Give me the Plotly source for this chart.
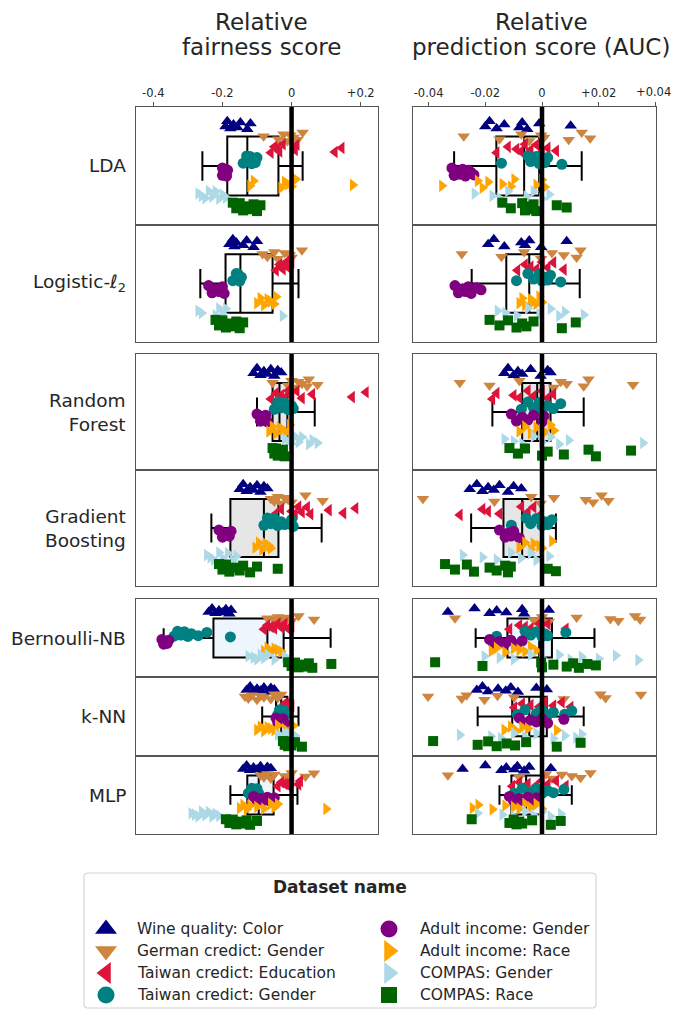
import plotly.graph_objects as go

# ---------------- data ----------------
DATASETS = ["Wine quality: Color", "German credict: Gender", "Taiwan credict: Education",
            "Taiwan credict: Gender", "Adult income: Gender", "Adult income: Race",
            "COMPAS: Gender", "COMPAS: Race"]
COLORS = ["#000080", "#cd853f", "#dc143c", "#008080", "#800080", "#ffa500", "#add8e6", "#006400"]
SYMBOLS = ["triangle-up", "triangle-down", "triangle-left", "circle", "circle",
           "triangle-right", "triangle-right", "square"]
CLASSIFIERS = ["LDA", "Logistic-ℓ<sub>2</sub>", "Random<br>Forest", "Gradient<br>Boosting",
               "Bernoulli-NB", "k-NN", "MLP"]
FAIR_TICKS = [-0.4, -0.2, 0, 0.2]
FAIR_TICKTEXT = ["-0.4", "-0.2", "0", "+0.2"]
AUC_TICKS = [-0.04, -0.02, 0, 0.02, 0.04]
AUC_TICKTEXT = ["-0.04", "-0.02", "0", "+0.02", "+0.04"]
TITLES = [["Relative", "fairness score"], ["Relative", "prediction score (AUC)"]]

# relative fairness score, one list per dataset (order of DATASETS)
FAIR_LDA = [
    [-0.191, -0.186, -0.177, -0.168, -0.157, -0.148, -0.128, -0.119],
    [-0.081, -0.038, -0.023, -0.012, -0.003, 0.006, 0.017, 0.032],
    [-0.06, -0.05, -0.042, -0.035, -0.025, 0.01, 0.015, 0.125, 0.145],
    [-0.14, -0.13, -0.125, -0.12, -0.115, -0.11, -0.105, -0.10],
    [-0.2, -0.2, -0.195, -0.19, -0.19, -0.188, -0.185],
    [-0.12, -0.11, -0.03, -0.02, -0.01, 0.0, 0.012, 0.177],
    [-0.27, -0.26, -0.25, -0.24, -0.23, -0.22, -0.21, -0.2, -0.19],
    [-0.17, -0.16, -0.15, -0.14, -0.13, -0.12, -0.11, -0.1, -0.09],
]
FAIR_LOG = [
    [-0.18, -0.17, -0.165, -0.16, -0.14, -0.13, -0.11, -0.1],
    [-0.084, -0.07, -0.05, -0.04, -0.02, -0.005, 0.0, 0.03],
    [-0.045, -0.035, -0.03, -0.025, -0.015, -0.01, 0.0],
    [-0.17, -0.16, -0.16, -0.155, -0.15, -0.145],
    [-0.24, -0.23, -0.22, -0.21, -0.2, -0.195],
    [-0.1, -0.09, -0.08, -0.07, -0.06, -0.05, -0.045],
    [-0.27, -0.26, -0.22, -0.21, -0.2, -0.19, -0.026],
    [-0.22, -0.21, -0.2, -0.19, -0.18, -0.17, -0.16, -0.15, -0.14],
]
FAIR_RF = [
    [-0.11, -0.1, -0.09, -0.08, -0.07, -0.06, -0.05, -0.04, -0.03],
    [-0.055, -0.01, 0.0, 0.01, 0.02, 0.03, 0.045, 0.05, 0.075],
    [-0.06, -0.045, -0.03, -0.02, -0.01, 0.0, 0.015, 0.03, 0.06, 0.175, 0.215],
    [-0.05, -0.04, -0.03, -0.02, -0.01, 0.0, 0.005],
    [-0.1, -0.09, -0.085, -0.08, -0.075, -0.07],
    [-0.065, -0.055, -0.045, -0.035, -0.025, -0.015, -0.005],
    [-0.02, -0.01, 0.0, 0.01, 0.02, 0.03, 0.05, 0.06, 0.075],
    [-0.055, -0.05, -0.045, -0.04, -0.035, -0.03, -0.025, -0.02],
]
FAIR_GB = [
    [-0.15, -0.14, -0.13, -0.12, -0.11, -0.1, -0.09, -0.08, -0.07],
    [-0.06, -0.05, -0.04, -0.03, -0.02, -0.01, 0.0, 0.04, 0.09],
    [-0.05, -0.03, 0.0, 0.01, 0.02, 0.03, 0.045, 0.055, 0.108, 0.15, 0.185],
    [-0.08, -0.07, -0.06, -0.05, -0.04, -0.03, -0.02, 0.0, 0.005],
    [-0.21, -0.2, -0.19, -0.18, -0.175],
    [-0.105, -0.095, -0.085, -0.075, -0.065, -0.06],
    [-0.245, -0.235, -0.225, -0.21, -0.2, -0.185, -0.17, -0.16],
    [-0.21, -0.2, -0.19, -0.18, -0.165, -0.15, -0.14, -0.12, -0.1, -0.04],
]
FAIR_NB = [
    [-0.24, -0.23, -0.22, -0.21, -0.2, -0.19, -0.18, -0.175],
    [-0.07, -0.05, -0.04, -0.03, -0.02, -0.01, 0.0, 0.02, 0.065],
    [-0.08, -0.07, -0.06, -0.05, -0.04, -0.03, -0.02, -0.01, 0.0],
    [-0.34, -0.33, -0.32, -0.31, -0.3, -0.29, -0.27, -0.245, -0.177],
    [-0.375, -0.37, -0.365, -0.36, -0.355],
    [-0.08, -0.07, -0.06, -0.05, -0.04, -0.03],
    [-0.125, -0.11, -0.1, -0.09, -0.08, -0.07, -0.05, -0.02, -0.01],
    [-0.01, 0.0, 0.01, 0.02, 0.03, 0.04, 0.05, 0.06, 0.115],
]
FAIR_KNN = [
    [-0.13, -0.12, -0.11, -0.1, -0.09, -0.08, -0.07, -0.06, -0.05],
    [-0.135, -0.125, -0.115, -0.1, -0.09, -0.08, -0.06, -0.05, -0.04, -0.03],
    [-0.025, -0.02, -0.015, -0.01, -0.005, 0.0],
    [-0.04, -0.035, -0.03, -0.025, -0.02, -0.015],
    [-0.045, -0.04, -0.035, -0.03, -0.025, -0.02],
    [-0.1, -0.09, -0.08, -0.07, -0.06, -0.05, -0.04, -0.02, 0.005],
    [-0.04, -0.03, -0.025, -0.02, -0.015, -0.01, 0.0, 0.01],
    [-0.025, -0.02, -0.015, -0.01, -0.005, 0.0, 0.01, 0.03],
]
FAIR_MLP = [
    [-0.14, -0.13, -0.12, -0.11, -0.1, -0.09, -0.08, -0.07, -0.06],
    [-0.09, -0.08, -0.07, -0.06, -0.05, -0.02, -0.01, 0.0, 0.04, 0.065],
    [-0.04, -0.03, -0.02, -0.01, 0.0, 0.02, 0.025],
    [-0.125, -0.115, -0.105, -0.1, -0.095],
    [-0.11, -0.1, -0.09, -0.08, -0.07, -0.06, -0.05],
    [-0.15, -0.14, -0.13, -0.12, -0.1, -0.08, -0.06, -0.05, -0.04, 0.1],
    [-0.29, -0.28, -0.27, -0.26, -0.25, -0.24, -0.23, -0.22, -0.21],
    [-0.19, -0.18, -0.17, -0.16, -0.15, -0.14, -0.13, -0.12, -0.1],
]

# relative prediction score (AUC)
AUC_LDA = [
    [-0.02, -0.0185, -0.016, -0.0133, -0.008, -0.007, -0.0052, -0.001, 0.0101],
    [-0.0276, -0.015, -0.0073, -0.0045, -0.0003, 0.0007, 0.0094, 0.014, 0.017],
    [-0.016, -0.012, -0.009, -0.0075, -0.006, -0.004, -0.002, 0.0, 0.002, 0.005],
    [-0.0143, -0.005, -0.004, -0.002, -0.001, 0.0, 0.001, 0.002, 0.007],
    [-0.0318, -0.031, -0.03, -0.029, -0.028, -0.027, -0.026, -0.025, -0.024],
    [-0.0353, -0.0227, -0.021, -0.019, -0.014, -0.011, -0.0098, -0.002, 0.0, 0.001],
    [-0.0238, -0.0175, -0.015, -0.012, -0.0055, -0.003, 0.0, 0.0025],
    [-0.014, -0.011, -0.007, -0.006, -0.005, -0.004, -0.003, -0.002, 0.0052, 0.0087],
]
AUC_LOG = [
    [-0.019, -0.017, -0.0133, -0.0073, -0.006, -0.0045, -0.0003, 0.0087],
    [-0.0283, -0.0143, -0.0063, -0.0003, 0.0035, 0.0077, 0.0122, 0.0136],
    [-0.0087, -0.006, -0.004, -0.002, 0.0, 0.002, 0.004, 0.0077],
    [-0.009, -0.005, -0.003, -0.001, 0.0, 0.001, 0.002, 0.003, 0.0066],
    [-0.0307, -0.0295, -0.028, -0.027, -0.026, -0.025, -0.023, -0.0215],
    [-0.008, -0.007, -0.006, -0.004, -0.003, -0.002, -0.001, 0.0],
    [-0.0157, -0.013, -0.009, -0.005, -0.001, 0.003, 0.006, 0.008, 0.0147],
    [-0.0185, -0.015, -0.012, -0.009, -0.007, -0.0055, -0.003, 0.007, 0.0119],
]
AUC_RF = [
    [-0.0133, -0.012, -0.01, -0.0085, -0.007, -0.004, -0.0005, 0.002, 0.003],
    [-0.029, -0.0185, -0.008, 0.0042, 0.0066, 0.0087, 0.0147, 0.0164, 0.0321],
    [-0.0175, -0.016, -0.01, -0.008, -0.005, -0.003, 0.0, 0.002, 0.004],
    [-0.0073, -0.005, -0.003, -0.001, 0.0, 0.002, 0.004, 0.0066],
    [-0.0108, -0.009, -0.007, -0.005, -0.003, 0.0, 0.0007],
    [-0.008, -0.006, -0.004, -0.002, 0.0, 0.001, 0.003, 0.0042],
    [-0.0133, -0.01, -0.007, -0.003, 0.0, 0.003, 0.006, 0.0094, 0.0356],
    [-0.0115, -0.0085, -0.006, 0.0, 0.002, 0.0077, 0.0164, 0.019, 0.0314],
]
AUC_GB = [
    [-0.0255, -0.023, -0.021, -0.019, -0.017, -0.015, -0.012, -0.01, -0.0073],
    [-0.042, -0.0168, -0.0038, -0.0005, 0.0042, 0.0154, 0.018, 0.021, 0.0234],
    [-0.029, -0.021, -0.019, -0.015, -0.0073, -0.005, -0.003, -0.0003],
    [-0.0108, -0.0056, -0.004, -0.002, 0.0, 0.001, 0.002, 0.0035],
    [-0.015, -0.013, -0.012, -0.011, -0.01, -0.008],
    [-0.008, -0.006, -0.004, -0.003, -0.001, 0.0, 0.0035],
    [-0.028, -0.021, -0.016, -0.011, -0.0075, -0.004, -0.002, 0.0025],
    [-0.0342, -0.0307, -0.0265, -0.024, -0.0185, -0.016, -0.013, -0.012, -0.011, 0.002, 0.0049],
]
AUC_NB = [
    [-0.0332, -0.0238, -0.0185, -0.016, -0.0126, -0.007, -0.0063, 0.0024],
    [-0.0307, -0.0028, 0.0, 0.0024, 0.0122, 0.0241, 0.0269, 0.0328, 0.0346],
    [-0.0115, -0.008, -0.006, -0.004, -0.001, 0.0, 0.002, 0.0084],
    [-0.016, -0.006, -0.004, -0.002, 0.0, 0.001, 0.002, 0.0084],
    [-0.0185, -0.017, -0.015, -0.013, -0.011, -0.009, -0.007],
    [-0.0178, -0.016, -0.013, -0.01, -0.008, -0.006, -0.004, -0.002],
    [-0.0203, -0.015, -0.01, -0.004, 0.0, 0.006, 0.01, 0.014, 0.02, 0.026, 0.0339],
    [-0.0377, -0.021, -0.0003, 0.0, 0.004, 0.0087, 0.011, 0.013, 0.016, 0.019],
]
AUC_KNN = [
    [-0.023, -0.021, -0.019, -0.0155, -0.0128, -0.011, -0.0085, -0.002, 0.0017],
    [-0.0402, -0.0283, -0.0266, -0.0203, -0.0157, -0.0098, 0.0077, 0.0206, 0.0224, 0.0349],
    [-0.0098, -0.007, -0.004, -0.001, 0.001, 0.004, 0.007, 0.0101],
    [-0.0087, -0.006, -0.002, 0.0, 0.002, 0.004, 0.008, 0.0105],
    [-0.008, -0.006, -0.004, -0.002, 0.0, 0.002, 0.0077],
    [-0.0133, -0.011, -0.009, -0.007, -0.005, 0.0052],
    [-0.029, -0.018, -0.0145, -0.01, -0.006, -0.002, 0.004, 0.008, 0.012, 0.014],
    [-0.0384, -0.0227, -0.019, -0.016, -0.0125, -0.0095, -0.0056, 0.0052, 0.0136],
]
AUC_MLP = [
    [-0.028, -0.02, -0.0143, -0.0126, -0.0098, -0.0087, -0.0063, -0.0045, 0.0031],
    [-0.0332, -0.008, 0.0014, 0.0035, 0.007, 0.0105, 0.0136, 0.0171],
    [-0.0105, -0.008, -0.005, -0.002, 0.0, 0.002, 0.005, 0.0084],
    [-0.0098, -0.007, -0.004, -0.002, 0.0, 0.002, 0.004, 0.0077],
    [-0.0115, -0.01, -0.008, -0.007, -0.005, -0.003, -0.002],
    [-0.0245, -0.0225, -0.0175, -0.013, -0.01, -0.008, -0.006, -0.004, -0.002, 0.0],
    [-0.0227, -0.014, -0.01, -0.006, -0.003, 0.0, 0.003, 0.0066],
    [-0.0248, -0.0115, -0.01, -0.009, -0.008, -0.007, -0.0035, 0.0031, 0.0066],
]

# box summaries: [lower whisker, q1, median, q3, upper whisker]
BOX_FAIR = [
    [-0.258, -0.186, -0.128, -0.038, 0.032],
    [-0.264, -0.191, -0.148, -0.055, 0.02],
    [-0.1, -0.055, -0.035, -0.012, 0.067],
    [-0.232, -0.177, -0.08, -0.038, 0.087],
    [-0.37, -0.226, -0.07, -0.023, 0.113],
    [-0.085, -0.045, -0.03, -0.012, 0.02],
    [-0.177, -0.128, -0.095, -0.052, 0.017],
]
BOX_AUC = [
    [-0.031, -0.0161, -0.0063, -0.001, 0.014],
    [-0.0248, -0.0126, -0.0045, -0.0003, 0.0133],
    [-0.0175, -0.007, -0.0017, 0.003, 0.0147],
    [-0.025, -0.0136, -0.007, -0.0003, 0.0049],
    [-0.0234, -0.0122, -0.001, 0.0035, 0.0185],
    [-0.0227, -0.0105, -0.0045, 0.0017, 0.0147],
    [-0.015, -0.0108, -0.0056, 0.0, 0.0105],
]

FAIR = [FAIR_LDA, FAIR_LOG, FAIR_RF, FAIR_GB, FAIR_NB, FAIR_KNN, FAIR_MLP]
AUC = [AUC_LDA, AUC_LOG, AUC_RF, AUC_GB, AUC_NB, AUC_KNN, AUC_MLP]

# ---------------- layout / style ----------------
# page body has an 8px margin: figure is sized so the page is exactly 680x1017
PAGE_W, PAGE_H, OFF = 680, 1017, 8
W, H = PAGE_W - 2 * OFF, PAGE_H - 2 * OFF
FONT = "DejaVu Sans"
TXT = "#262626"
COL_X = [(136, 378), (413, 656)]
ROW_Y = [(107, 225), (225, 342), (354, 470), (470, 586), (599, 677), (677, 756), (756, 834)]
XRANGE = [[-0.45, 0.25], [-0.0455, 0.0402]]
YRANGE = [8.55, -1.55]
BOX_FILL = ["white", "white", "#e6e6e6", "#e6e6e6", "#eef6fd", "#eef6fd", "#eef6fd"]
JITTER = [0.12, -0.32, 0.3, -0.05, 0.2, -0.22, 0.36, -0.14, 0.05, 0.26, -0.36]
MSIZE = [11, 11, 11, 11, 11, 11, 11, 10]
TICK_FONT = 11.5


def fx(p):
    return (p - OFF) / W


def fy(p):
    return 1 - (p - OFF) / H


fig = go.Figure()
layout = dict(width=W, height=H, margin=dict(l=0, r=0, t=0, b=0, pad=0),
              paper_bgcolor="white", plot_bgcolor="white",
              font=dict(family=FONT, color=TXT), showlegend=False)
shapes = []
annotations = []

for r in range(7):
    for c in range(2):
        n = r * 2 + c + 1
        xa = "x" if n == 1 else f"x{n}"
        ya = "y" if n == 1 else f"y{n}"
        xk = "xaxis" if n == 1 else f"xaxis{n}"
        yk = "yaxis" if n == 1 else f"yaxis{n}"
        top = (r == 0)
        layout[xk] = dict(domain=[fx(COL_X[c][0]), fx(COL_X[c][1])], range=XRANGE[c],
                          anchor=ya, showgrid=False, zeroline=False,
                          showline=True, mirror=True, linecolor="#555555", linewidth=1.3,
                          side="top", ticks="outside" if top else "", ticklen=4,
                          tickcolor="#555555", showticklabels=top,
                          tickvals=FAIR_TICKS if c == 0 else AUC_TICKS,
                          ticktext=FAIR_TICKTEXT if c == 0 else AUC_TICKTEXT,
                          tickfont=dict(size=TICK_FONT, color=TXT, family=FONT))
        layout[yk] = dict(domain=[fy(ROW_Y[r][1]), fy(ROW_Y[r][0])], range=YRANGE,
                          anchor=xa, showgrid=False, zeroline=False, showticklabels=False,
                          ticks="", showline=True, mirror=True, linecolor="#555555",
                          linewidth=1.3)
        bx = (BOX_FAIR if c == 0 else BOX_AUC)[r]
        fig.add_trace(go.Box(y=[3.5], lowerfence=[bx[0]], q1=[bx[1]], median=[bx[2]],
                             q3=[bx[3]], upperfence=[bx[4]], orientation="h",
                             width=5.05, whiskerwidth=0.5, fillcolor=BOX_FILL[r],
                             line=dict(color="black", width=2), boxpoints=False,
                             xaxis=xa, yaxis=ya, hoverinfo="skip", showlegend=False))
        panel = (FAIR if c == 0 else AUC)[r]
        for d, vals in enumerate(panel):
            ys = [d + JITTER[(i + 3 * d) % len(JITTER)] for i in range(len(vals))]
            fig.add_trace(go.Scatter(x=vals, y=ys, mode="markers", xaxis=xa, yaxis=ya,
                                     marker=dict(symbol=SYMBOLS[d], color=COLORS[d],
                                                 size=MSIZE[d], line=dict(width=0)),
                                     showlegend=False, hoverinfo="skip"))
        shapes.append(dict(type="line", xref=xa, yref=f"{ya} domain", x0=0, x1=0, y0=0, y1=1,
                           line=dict(color="black", width=4.5), layer="above"))
    # row label
    annotations.append(dict(text=CLASSIFIERS[r], xref="paper", yref="paper",
                            x=fx(128), y=fy((ROW_Y[r][0] + ROW_Y[r][1]) / 2),
                            xanchor="right", yanchor="middle", align="right",
                            showarrow=False, font=dict(size=18.5, color=TXT, family=FONT)))

# the last AUC tick label sits at the page edge, where plotly hides it: draw it as text
annotations.append(dict(text=AUC_TICKTEXT[-1], xref="x2", yref="paper", x=AUC_TICKS[-1],
                        y=fy(92), xanchor="center", yanchor="middle", xshift=-2,
                        showarrow=False, font=dict(size=TICK_FONT, color=TXT, family=FONT)))

# column titles (two lines each)
TITLE_X = [261, 541]
TITLE_Y = [22, 47]
for c in range(2):
    for k in range(2):
        annotations.append(dict(text=TITLES[c][k], xref="paper", yref="paper",
                                x=fx(TITLE_X[c]), y=fy(TITLE_Y[k]), xanchor="center",
                                yanchor="middle", showarrow=False,
                                font=dict(size=23, color=TXT, family=FONT)))

# ---------------- legend (drawn manually) ----------------
LEG = (84, 873, 596, 1008)
layout["xaxis15"] = dict(domain=[fx(LEG[0]), fx(LEG[2])], range=[LEG[0], LEG[2]],
                         visible=False, anchor="y15")
layout["yaxis15"] = dict(domain=[fy(LEG[3]), fy(LEG[1])], range=[LEG[3], LEG[1]],
                         visible=False, anchor="x15")
LEG_COL_X = [106, 389]
LEG_ROW_Y = [929, 951, 973, 995]
LEG_SIZE = [19, 19, 19, 17, 17, 19, 19, 16]
for d in range(8):
    col, row = d // 4, d % 4
    fig.add_trace(go.Scatter(x=[LEG_COL_X[col]], y=[LEG_ROW_Y[row]], mode="markers",
                             xaxis="x15", yaxis="y15", hoverinfo="skip", showlegend=False,
                             marker=dict(symbol=SYMBOLS[d], color=COLORS[d], size=LEG_SIZE[d])))
    annotations.append(dict(text=DATASETS[d], xref="paper", yref="paper",
                            x=fx(LEG_COL_X[col] + 29), y=fy(LEG_ROW_Y[row]),
                            xanchor="left", yanchor="middle", showarrow=False,
                            font=dict(size=15.5, color=TXT, family=FONT)))
annotations.append(dict(text="<b>Dataset name</b>", xref="paper", yref="paper",
                        x=fx(340), y=fy(887), xanchor="center", yanchor="middle",
                        showarrow=False, font=dict(size=17, color=TXT, family=FONT)))

x0, y0, x1, y1 = fx(LEG[0]), fy(LEG[1]), fx(LEG[2]), fy(LEG[3])
rx, ry = 4 / W, 4 / H
path = (f"M{x0 + rx},{y0} L{x1 - rx},{y0} Q{x1},{y0} {x1},{y0 - ry} "
        f"L{x1},{y1 + ry} Q{x1},{y1} {x1 - rx},{y1} L{x0 + rx},{y1} "
        f"Q{x0},{y1} {x0},{y1 + ry} L{x0},{y0 - ry} Q{x0},{y0} {x0 + rx},{y0} Z")
shapes.append(dict(type="path", xref="paper", yref="paper", path=path,
                   line=dict(color="#d4d4d4", width=1.2), fillcolor="rgba(0,0,0,0)",
                   layer="below"))

layout["shapes"] = shapes
layout["annotations"] = annotations
fig.update_layout(**layout)
fig.write_html("out.html")
